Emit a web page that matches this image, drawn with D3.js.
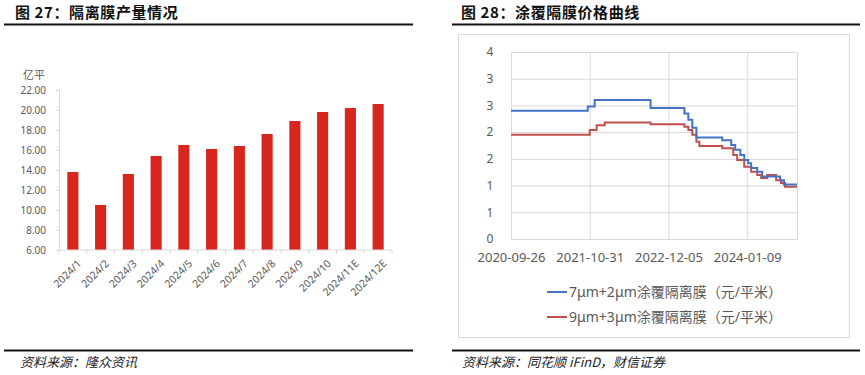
<!DOCTYPE html>
<html>
<head>
<meta charset="utf-8">
<script src="https://cdn.jsdelivr.net/npm/d3@7"></script>
<style>
  body { margin: 0; background: #fff; }
  text { font-family: "Noto Sans", "Noto Sans CJK SC", sans-serif; }
  .title { font-family: "Noto Sans CJK SC", sans-serif; font-weight: 700; font-size: 15px; fill: #111; letter-spacing: 0.6px; }
  .src { font-family: "Noto Sans CJK SC", serif; font-style: italic; font-size: 13px; fill: #222; }
  .tick text { fill: #595959; }
</style>
</head>
<body>
<div class="chart"></div>
<script>
// left chart data
var months = ["2024/1", "2024/2", "2024/3", "2024/4", "2024/5", "2024/6",
  "2024/7", "2024/8", "2024/9", "2024/10", "2024/11E", "2024/12E"];
var output = [13.8, 10.5, 13.6, 15.4, 16.5, 16.1, 16.4, 17.6, 18.9, 19.8, 20.2, 20.6];
var outputTicks = [6, 8, 10, 12, 14, 16, 18, 20, 22];

// right chart data
var priceTicks = [0, 0.5, 1, 1.5, 2, 2.5, 3, 3.5];
var dateTicks = ["2020-09-26", "2021-10-31", "2022-12-05", "2024-01-09"];
var dateRange = ["2020-09-26", "2024-09-18"];

var blueDates = ["2020-09-26", "2021-10-21", "2021-11-25", "2022-09-05", "2023-02-24",
  "2023-03-16", "2023-04-05", "2023-04-26", "2023-09-04", "2023-10-20", "2023-11-09",
  "2023-12-05", "2023-12-25", "2024-01-14", "2024-01-29", "2024-02-29", "2024-03-25",
  "2024-06-24", "2024-07-14", "2024-09-18"];
var blueVals = [2.40, 2.48, 2.60, 2.45, 2.35, 2.23, 2.08, 1.90, 1.85, 1.76, 1.67,
  1.57, 1.48, 1.42, 1.33, 1.26, 1.17, 1.10, 1.02, 1.02];

var redDates = ["2020-09-26", "2021-10-31", "2021-12-05", "2022-01-15", "2022-09-05",
  "2023-02-24", "2023-03-16", "2023-04-05", "2023-04-26", "2023-05-11", "2023-09-04",
  "2023-10-30", "2023-11-19", "2023-12-25", "2024-01-29", "2024-02-29", "2024-03-20",
  "2024-04-19", "2024-06-04", "2024-06-29", "2024-07-19", "2024-09-18"];
var redVals = [1.95, 2.04, 2.13, 2.18, 2.15, 2.10, 2.04, 1.95, 1.82, 1.74, 1.70,
  1.57, 1.48, 1.35, 1.26, 1.20, 1.14, 1.20, 1.10, 1.05, 0.98, 0.98];

var seriesNames = ["7μm+2μm涂覆隔离膜（元/平米）", "9μm+3μm涂覆隔离膜（元/平米）"];
var seriesColors = ["#4472c4", "#c0504d"];

var svgWidth = 865;
var svgHeight = 375;

var svg = d3.select(".chart")
  .append("svg")
  .attr("width", svgWidth)
  .attr("height", svgHeight);

svg.append("rect").attr("width", svgWidth).attr("height", svgHeight).attr("fill", "#fff");

// ---------- headers / footers ----------
svg.append("text").attr("class", "title").attr("x", 15).attr("y", 18).text("图 27：隔离膜产量情况");
svg.append("text").attr("class", "title").attr("x", 461).attr("y", 18).text("图 28：涂覆隔膜价格曲线");

[[4, 413], [452, 860]].forEach(function(r) {
  svg.append("line").attr("x1", r[0]).attr("x2", r[1]).attr("y1", 24.5).attr("y2", 24.5)
    .attr("stroke", "#111").attr("stroke-width", 2);
  svg.append("line").attr("x1", r[0]).attr("x2", r[1]).attr("y1", 350.5).attr("y2", 350.5)
    .attr("stroke", "#111").attr("stroke-width", 2);
});
svg.append("text").attr("class", "src").attr("x", 20).attr("y", 367).text("资料来源：隆众资讯");
svg.append("text").attr("class", "src").attr("x", 462).attr("y", 367).text("资料来源：同花顺 iFinD，财信证券");

// ---------- left: bar chart ----------
var left = { x0: 59, x1: 392, y0: 90, y1: 250 };

var xBand = d3.scaleBand().domain(months).range([left.x0, left.x1]).paddingInner(0.6).paddingOuter(0.3);
var yLin = d3.scaleLinear().domain([6, 22]).range([left.y1, left.y0]);

var gL = svg.append("g");

var yAxisL = gL.append("g")
  .attr("transform", "translate(" + left.x0 + ",0)")
  .call(d3.axisLeft(yLin).tickValues(outputTicks).tickFormat(d3.format(".2f")).tickSize(3).tickPadding(10));
yAxisL.select(".domain").attr("stroke", "#d9d9d9");
yAxisL.selectAll(".tick line").attr("stroke", "#d9d9d9");
yAxisL.selectAll(".tick text").attr("font-size", 10);

gL.selectAll("rect.bar")
  .data(output)
  .enter()
  .append("rect")
  .attr("class", "bar")
  .attr("x", (d, i) => xBand(months[i]))
  .attr("width", xBand.bandwidth())
  .attr("y", d => yLin(d))
  .attr("height", d => left.y1 - yLin(d))
  .attr("fill", "#d7261e");

// x axis with ticks between categories
var xAxisL = gL.append("g").attr("transform", "translate(0," + left.y1 + ")");
xAxisL.append("line").attr("x1", left.x0).attr("x2", left.x1).attr("stroke", "#d9d9d9");
xAxisL.selectAll("line.sep")
  .data(d3.range(months.length + 1))
  .enter()
  .append("line")
  .attr("class", "sep")
  .attr("x1", i => left.x0 + i * (left.x1 - left.x0) / months.length)
  .attr("x2", i => left.x0 + i * (left.x1 - left.x0) / months.length)
  .attr("y2", 4)
  .attr("stroke", "#d9d9d9");
xAxisL.selectAll("text")
  .data(months)
  .enter()
  .append("text")
  .attr("transform", d => "translate(" + (xBand(d) + xBand.bandwidth() / 2 + 4) + ",9) rotate(-45)")
  .attr("text-anchor", "end")
  .attr("dy", "0.7em")
  .attr("font-size", 10.5)
  .attr("fill", "#595959")
  .text(d => d);

gL.append("text").attr("x", 45).attr("y", 79).attr("text-anchor", "end")
  .attr("font-size", 11).attr("fill", "#595959").text("亿平");

// ---------- right: step lines ----------
var parseDate = d3.timeParse("%Y-%m-%d");
var right = { x0: 511, x1: 797, y0: 52, y1: 239 };

svg.append("rect")
  .attr("x", 458.5).attr("y", 34.5).attr("width", 391).attr("height", 303)
  .attr("fill", "none").attr("stroke", "#d9d9d9");

var xTime = d3.scaleTime().domain(dateRange.map(parseDate)).range([right.x0, right.x1]);
var yPrice = d3.scaleLinear().domain([0, 3.5]).range([right.y1, right.y0]);

var gR = svg.append("g");

// horizontal grid + y labels
var yAxisR = gR.append("g")
  .attr("transform", "translate(" + right.x0 + ",0)")
  .call(d3.axisLeft(yPrice).tickValues(priceTicks)
    .tickFormat(d => String(Math.round(d)))
    .tickSize(-(right.x1 - right.x0)).tickPadding(16));
yAxisR.select(".domain").remove();
yAxisR.selectAll(".tick line").attr("stroke", "#d9d9d9");
yAxisR.selectAll(".tick text").attr("font-size", 12).attr("text-anchor", "middle").attr("x", -21);

// vertical grid + x labels
var xAxisR = gR.append("g")
  .attr("transform", "translate(0," + right.y1 + ")")
  .call(d3.axisBottom(xTime).tickValues(dateTicks.map(parseDate))
    .tickFormat(d3.timeFormat("%Y-%m-%d"))
    .tickSize(-(right.y1 - right.y0)).tickPadding(14));
xAxisR.select(".domain").attr("stroke", "#d9d9d9");
xAxisR.selectAll(".tick line").attr("stroke", "#d9d9d9");
xAxisR.selectAll(".tick text").attr("font-size", 13);

var line = d3.line()
  .x(d => xTime(d.date))
  .y(d => yPrice(d.value))
  .curve(d3.curveStepAfter);

var blue = blueDates.map((d, i) => ({ date: parseDate(d), value: blueVals[i] }));
var red = redDates.map((d, i) => ({ date: parseDate(d), value: redVals[i] }));

[red, blue].forEach(function(s, k) {
  gR.append("path")
    .datum(s)
    .attr("fill", "none")
    .attr("stroke", k === 1 ? seriesColors[0] : seriesColors[1])
    .attr("stroke-width", 2)
    .attr("d", line);
});

// legend
seriesNames.forEach(function(name, i) {
  var y = 292 + i * 25;
  gR.append("line").attr("x1", 547).attr("x2", 567).attr("y1", y).attr("y2", y)
    .attr("stroke", seriesColors[i]).attr("stroke-width", 2);
  gR.append("text").attr("x", 569).attr("y", y).attr("dy", "0.35em")
    .attr("font-size", 14).attr("fill", "#595959").text(name);
});
</script>
</body>
</html>
